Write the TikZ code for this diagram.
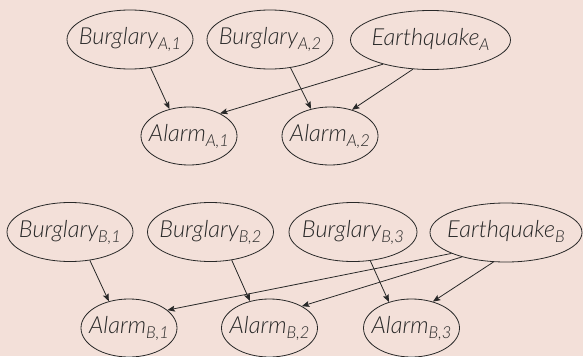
\documentclass[tikz,border=0pt]{standalone}
\usepackage{fontspec}
\setmainfont{Lato}[ItalicFont={Lato Light Italic}]
\usetikzlibrary{shapes.geometric,arrows.meta}
\definecolor{bgcol}{RGB}{243,224,217}
\definecolor{linecol}{RGB}{40,40,40}
\definecolor{textcol}{RGB}{40,40,40}
\newcommand\lsub[1]{\raisebox{-5pt}{\fontsize{16.5}{18}\selectfont #1}}
\newcommand\nlab[2]{\makebox[0pt]{\smash{\raisebox{-5pt}{#1\lsub{#2}}}}}
\tikzset{
  var/.style={ellipse, draw=linecol, line width=0.8pt, inner sep=0pt, text=textcol,
    font=\fontsize{23.5}{27}\selectfont\itshape},
  burg/.style={var, minimum width=126pt, minimum height=59pt},
  quake/.style={var, minimum width=160pt, minimum height=59pt},
  alarm/.style={var, minimum width=96pt, minimum height=58pt},
  edge/.style={draw=linecol, line width=0.8pt, -{Stealth[length=7.5pt,width=6pt,inset=1.5pt]}}
}
\begin{document}
\begin{tikzpicture}[x=1pt,y=-1pt]
\fill[bgcol] (0,0) rectangle (583,356);
\useasboundingbox (0,0) rectangle (583,356);
% group A
\node[burg] (BA1) at (130,39.5) {\nlab{Burglary}{A,1}};
\node[burg] (BA2) at (270,39.5) {\nlab{Burglary}{A,2}};
\node[quake] (EA) at (430.5,40) {\nlab{Earthquake}{A}};
\node[alarm] (AA1) at (189,136) {\nlab{Alarm}{A,1}};
\node[alarm] (AA2) at (330,136) {\nlab{Alarm}{A,2}};
\draw[edge] (BA1.-54.9) -- (AA1.126.5);
\draw[edge] (BA2.-54.6) -- (AA2.125.5);
\draw[edge] (EA.207.3) -- (AA1.36.6);
\draw[edge] (EA.-121.1) -- (AA2.50.8);
% group B
\node[burg] (BB1) at (70,232) {\nlab{Burglary}{B,1}};
\node[burg] (BB2) at (210.5,232) {\nlab{Burglary}{B,2}};
\node[burg, minimum width=128pt] (BB3) at (353,232) {\nlab{Burglary}{B,3}};
\node[quake, minimum width=152pt] (EB) at (506,232.5) {\nlab{Earthquake}{B}};
\node[alarm] (AB1) at (129,328) {\nlab{Alarm}{B,1}};
\node[alarm] (AB2) at (269.5,328) {\nlab{Alarm}{B,2}};
\node[alarm] (AB3) at (411.5,328) {\nlab{Alarm}{B,3}};
\draw[edge] (BB1.-55.4) -- (AB1.127.2);
\draw[edge] (BB2.-53.4) -- (AB2.126.5);
\draw[edge] (BB3.-59.6) -- (AB3.131);
\draw[edge] (EB.201) -- (AB1.25);
\draw[edge] (EB.209.7) -- (AB2.34.5);
\draw[edge] (EB.-113.8) -- (AB3.51.5);
\end{tikzpicture}
\end{document}
